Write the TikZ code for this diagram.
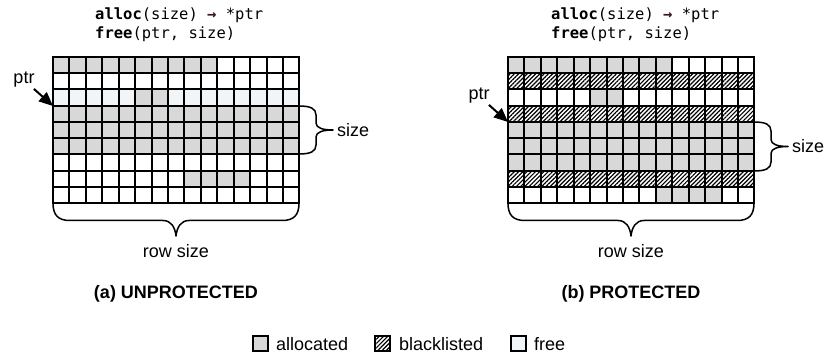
\documentclass[tikz,border=0pt]{standalone}
\usepackage{fontspec}
\setmainfont{Liberation Sans}
\newfontfamily\codefont{DejaVu Sans Mono}
\usetikzlibrary{patterns.meta,arrows.meta}
\definecolor{allocgray}{HTML}{D8D8D8}
\definecolor{freetint}{HTML}{F2F5F7}
\definecolor{arrowmaroon}{HTML}{3A1428}
\begin{document}
\begin{tikzpicture}[x=1pt,y=-1pt,
  lab/.style={font=\fontsize{18}{21}\selectfont, inner sep=0pt},
  ttl/.style={font=\fontsize{18}{21}\selectfont\bfseries, inner sep=0pt},
  code/.style={font=\fontsize{15.5}{18}\selectfont\codefont, inner sep=0pt, anchor=base west},
  allocc/.style={fill=allocgray},
  freec/.style={fill=freetint},
  hatchc/.style={pattern={Lines[angle=45,distance=3pt,line width=1.2pt]}, pattern color=black},
  gl/.style={line width=1.7pt, line cap=rect},
  bracestyle/.style={line width=1.5pt, line join=round},
  ptrarrow/.style={line width=2pt, -{Triangle[length=14pt,width=12pt]}},
  legbox/.style={draw, line width=1.3pt, minimum width=15pt, minimum height=15pt, inner sep=0pt}]

\useasboundingbox (0,0) rectangle (828,355);

% ---------- (a) unprotected ----------
\node[code] (codeA1) at (95,20) {\textbf{alloc}(size) {\color{arrowmaroon}\textbf{→}} *ptr};
\node[code] (codeA2) at (95,39) {\textbf{free}(ptr, size)};

\begin{scope}[shift={(53,57)}]
  \fill[allocc] (0,0) rectangle (164,16);
  \fill[freec] (0,32) rectangle (246,49);
  \fill[allocc] (82,32) rectangle (115,49);
  \fill[allocc] (0,49) rectangle (246,97);
  \fill[allocc] (131,114) rectangle (197,130);
  \foreach \x in {0,16,33,49,66,82,99,115,131,148,164,181,197,214,230,246} \draw[gl] (\x,0) -- (\x,146);
  \foreach \y in {0,16,32,49,65,81,97,114,130,146} \draw[gl] (0,\y) -- (246,\y);
  \coordinate (cornerA) at (0,49);
  % size brace
  \draw[bracestyle] (246,49) .. controls (257.5,49) and (263,51.5) .. (263,58)
    -- (263,66) .. controls (263,71) and (270,73) .. (280,73)
    .. controls (270,73) and (263,75) .. (263,80)
    -- (263,88) .. controls (263,94.5) and (257.5,97) .. (246,97);
  \node[lab, anchor=west] (sizeA) at (284,73) {size};
  % row size brace
  \draw[bracestyle] (0,146) .. controls (0,158) and (5,163.5) .. (17,163.5)
    -- (110,163.5) .. controls (118,163.5) and (122,170) .. (123,179)
    .. controls (124,170) and (128,163.5) .. (136,163.5)
    -- (229,163.5) .. controls (241,163.5) and (246,158) .. (246,146);
  \node[lab, anchor=base] (rowA) at (123,200.5) {row size};
  \node[ttl, anchor=base] (titleA) at (123,241.5) {(a) UNPROTECTED};
\end{scope}
\node[lab, inner sep=1pt] (ptrA) at (24,80) {ptr};
\draw[ptrarrow] (ptrA) -- (cornerA);

% ---------- (b) protected ----------
\node[code] (codeB1) at (551,20) {\textbf{alloc}(size) {\color{arrowmaroon}\textbf{→}} *ptr};
\node[code] (codeB2) at (551,39) {\textbf{free}(ptr, size)};

\begin{scope}[shift={(508,57)}]
  \fill[allocc] (0,0) rectangle (164,16);
  \path[hatchc] (0,16) rectangle (246,32);
  \fill[allocc] (82,32) rectangle (115,49);
  \path[hatchc] (0,49) rectangle (246,65);
  \fill[allocc] (0,65) rectangle (246,114);
  \path[hatchc] (0,114) rectangle (246,130);
  \fill[allocc] (148,130) rectangle (214,146);
  \foreach \x in {0,16,33,49,66,82,99,115,131,148,164,181,197,214,230,246} \draw[gl] (\x,0) -- (\x,146);
  \foreach \y in {0,16,32,49,65,81,97,114,130,146} \draw[gl] (0,\y) -- (246,\y);
  \coordinate (cornerB) at (0,65);
  % size brace
  \draw[bracestyle] (246,65) .. controls (257.5,65) and (263,67.5) .. (263,74)
    -- (263,82.5) .. controls (263,87.5) and (270,89.5) .. (280,89.5)
    .. controls (270,89.5) and (263,91.5) .. (263,96.5)
    -- (263,105) .. controls (263,111.5) and (257.5,114) .. (246,114);
  \node[lab, anchor=west] (sizeB) at (284,89.5) {size};
  % row size brace
  \draw[bracestyle] (0,146) .. controls (0,158) and (5,163.5) .. (17,163.5)
    -- (110,163.5) .. controls (118,163.5) and (122,170) .. (123,179)
    .. controls (124,170) and (128,163.5) .. (136,163.5)
    -- (229,163.5) .. controls (241,163.5) and (246,158) .. (246,146);
  \node[lab, anchor=base] (rowB) at (123,200.5) {row size};
  \node[ttl, anchor=base] (titleB) at (123,241.5) {(b) PROTECTED};
\end{scope}
\node[lab, inner sep=1pt] (ptrB) at (479,96) {ptr};
\draw[ptrarrow] (ptrB) -- (cornerB);

% ---------- legend ----------
\node[legbox, fill=allocgray] (legA) at (260.5,343.5) {};
\node[lab, anchor=base west] (legAt) at (276,351) {allocated};
\node[legbox, hatchc] (legB) at (382.5,343.5) {};
\node[lab, anchor=base west] (legBt) at (399,351) {blacklisted};
\node[legbox, fill=freetint] (legC) at (518.5,343.5) {};
\node[lab, anchor=base west] (legCt) at (534,351) {free};
\end{tikzpicture}
\end{document}
